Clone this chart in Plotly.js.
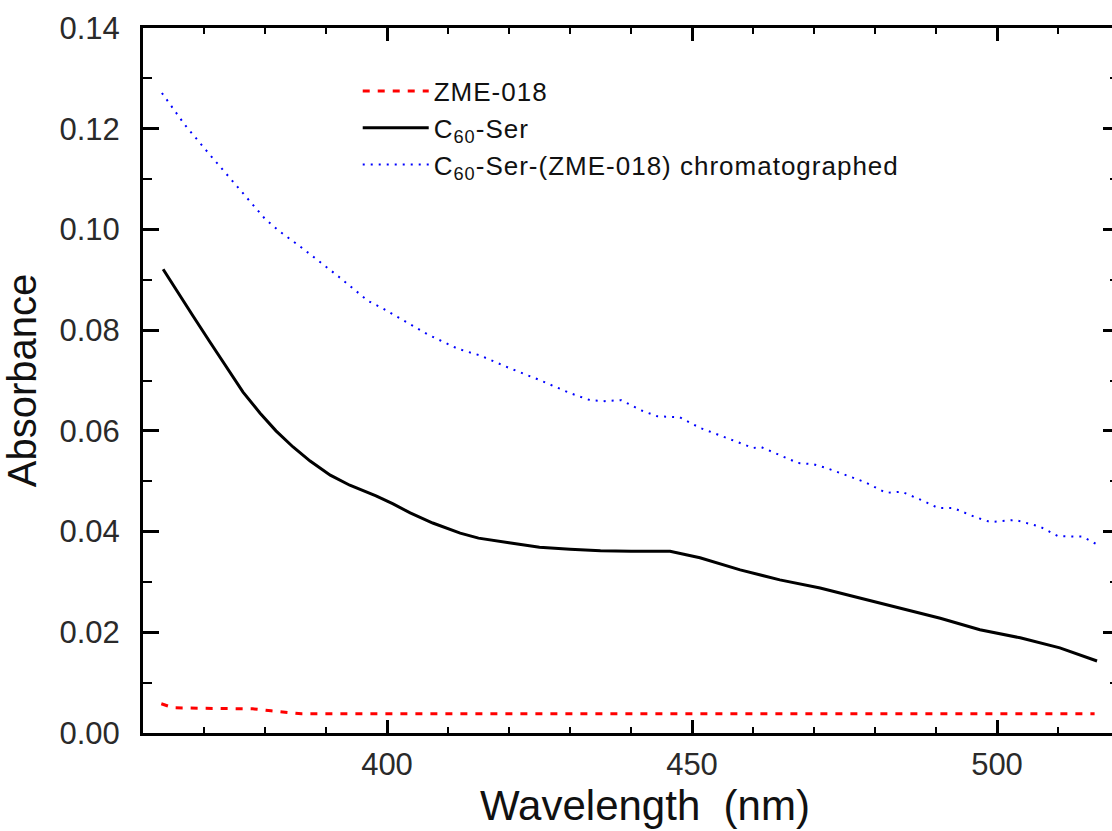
<!DOCTYPE html>
<html>
<head>
<meta charset="utf-8">
<script src="https://cdn.plot.ly/plotly-3.0.1.min.js"></script>
<style>
html,body{margin:0;padding:0;overflow:hidden;background:#fff;width:1112px;height:831px;}
#chart{width:1125px;height:831px;}
.legendtext{letter-spacing:1px;}
</style>
</head>
<body>
<div id="chart"></div>
<script>
// ZME-018 (red dashed)
const zmeX = [363, 365, 370, 375, 378, 381, 384, 386, 390, 400, 420, 450, 480, 500, 516];
const zmeY = [0.0058, 0.0050, 0.0049, 0.0049, 0.0048, 0.0044, 0.0040, 0.0038, 0.0038, 0.0038, 0.0038, 0.0038, 0.0038, 0.0038, 0.0038];

// C60-Ser (black solid)
const serX = [363.3, 365.4, 368.2, 371, 373.6, 376.4, 379.2, 381.8, 384.6, 387.4, 390.7, 393.9, 398.2, 401, 403.8, 407.5, 412, 415, 420, 425, 430, 435, 440, 446.4, 451.3, 457.9, 464.4, 471, 477.5, 484.1, 490.7, 497.2, 503.8, 510.3, 516.4];
const serY = [0.0921, 0.0880, 0.0828, 0.0776, 0.0729, 0.0677, 0.0635, 0.0600, 0.0568, 0.0540, 0.0512, 0.0492, 0.0471, 0.0455, 0.0437, 0.0417, 0.0397, 0.0387, 0.0378, 0.0369, 0.0365, 0.0362, 0.0361, 0.0361, 0.0348, 0.0324, 0.0304, 0.0288, 0.0268, 0.0248, 0.0228, 0.0205, 0.0189, 0.0169, 0.0143];

// C60-Ser-(ZME-018) chromatographed (blue dotted)
const chrX = [363.1, 366.9, 370.7, 375.9, 380, 382.3, 386.1, 392.1, 396.9, 399.2, 406.6, 411.6, 415.2, 420, 425, 430, 433.3, 435.7, 438.4, 441.6, 444.3, 448, 451.3, 456.1, 460, 461.3, 464.9, 467.4, 469.8, 472.1, 478.4, 481.8, 484.4, 487.9, 490.3, 492.8, 496.4, 498.9, 503, 507, 510, 514, 516.6];
const chrY = [0.1271, 0.1207, 0.1152, 0.1078, 0.1021, 0.0997, 0.0963, 0.0906, 0.0858, 0.0844, 0.0792, 0.0763, 0.0750, 0.0725, 0.0701, 0.0675, 0.0661, 0.0659, 0.0661, 0.0641, 0.0629, 0.0627, 0.0606, 0.0584, 0.0566, 0.0568, 0.0550, 0.0536, 0.0534, 0.0526, 0.0498, 0.0477, 0.0479, 0.0461, 0.0447, 0.0447, 0.0429, 0.0419, 0.0423, 0.0410, 0.0391, 0.0390, 0.0373];

const seriesNames = ['ZME-018', 'C<sub>60</sub>-Ser', 'C<sub>60</sub>-Ser-(ZME-018) chromatographed'];
const yTickVals = [0, 0.02, 0.04, 0.06, 0.08, 0.10, 0.12, 0.14];
const xTickVals = [400, 450, 500];
const xTitle = 'Wavelength\u00a0\u00a0(nm)';
const yTitle = 'Absorbance';

const FONT = '"Liberation Sans", Arial, sans-serif';

const traces = [
  {x: zmeX, y: zmeY, name: seriesNames[0], mode: 'lines', line: {color: '#ff0000', width: 3, dash: '7px,8px'}},
  {x: serX, y: serY, name: seriesNames[1], mode: 'lines', line: {color: '#000000', width: 3}},
  {x: chrX, y: chrY, name: seriesNames[2], mode: 'lines', line: {color: '#0000ff', width: 2, dash: '2px,6px'}}
];

const layout = {
  width: 1125, height: 831,
  margin: {l: 143, r: 6, t: 28, b: 98},
  paper_bgcolor: '#ffffff', plot_bgcolor: '#ffffff',
  font: {family: FONT, color: '#222'},
  showlegend: true,
  legend: {x: 0.22, y: 0.944, xanchor: 'left', yanchor: 'top', bgcolor: 'rgba(0,0,0,0)',
           font: {size: 26, color: '#111', family: FONT}, itemwidth: 66, tracegroupgap: 0},
  xaxis: {
    range: [360, 520], tickvals: xTickVals, ticks: 'inside', ticklen: 13, tickwidth: 3, tickcolor: '#000',
    showline: true, linewidth: 3, linecolor: '#000', mirror: 'ticks', showgrid: false, zeroline: false,
    tickfont: {size: 31, color: '#2a2a2a', family: FONT}, ticklabelstandoff: 2,
    minor: {dtick: 10, tick0: 0, ticks: 'inside', ticklen: 6, tickwidth: 2, tickcolor: '#000', showgrid: false}
  },
  yaxis: {
    range: [0, 0.14], tickvals: yTickVals, tickformat: '.2f', ticks: 'inside', ticklen: 16, tickwidth: 3, tickcolor: '#000',
    showline: true, linewidth: 3, linecolor: '#000', mirror: 'ticks', showgrid: false, zeroline: false,
    tickfont: {size: 31, color: '#2a2a2a', family: FONT}, ticklabelstandoff: 14,
    minor: {dtick: 0.01, tick0: 0, ticks: 'inside', ticklen: 9, tickwidth: 2, tickcolor: '#000', showgrid: false},
    title: {text: yTitle, font: {size: 40, color: '#111', family: FONT}, standoff: 11}
  },
  annotations: [
    {text: xTitle, xref: 'paper', yref: 'paper', x: 0.514, y: -0.066, xanchor: 'center', yanchor: 'top',
     showarrow: false, font: {size: 42, color: '#111', family: FONT}}
  ]
};

Plotly.newPlot('chart', traces, layout, {displayModeBar: false, staticPlot: true});
</script>
</body>
</html>
